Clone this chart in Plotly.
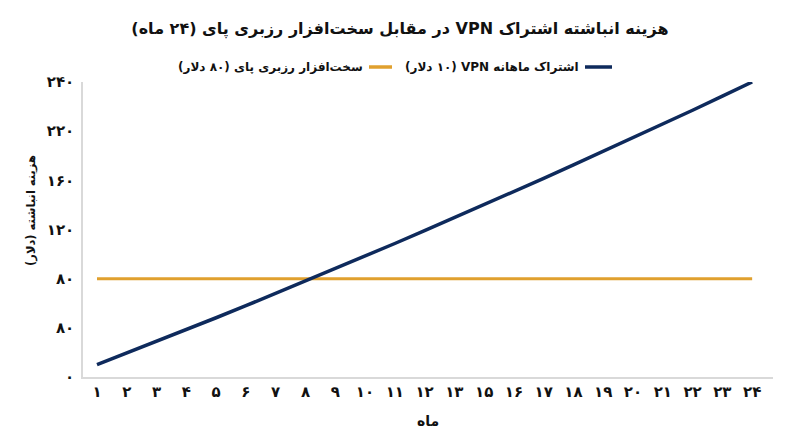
import plotly.graph_objects as go

# month labels as shown on the chart (14 is missing in the original)
months = ["۱", "۲", "۳", "۴", "۵", "۶", "۷", "۸", "۹", "۱۰", "۱۱", "۱۲",
          "۱۳", "۱۵", "۱۶", "۱۷", "۱۸", "۱۹", "۲۰", "۲۱", "۲۲", "۲۳", "۲۴"]

# cumulative cost (dollars)
vpn_cost = [10, 19.4, 28.9, 38.5, 48.2, 58, 68, 77.9, 88.1, 98.3, 108.6, 119,
            129.5, 140.1, 150.8, 161.6, 172.5, 183.5, 194.6, 205.7, 217, 228.5, 240]
pi_cost = [80] * len(months)

y_ticks = [0, 40, 80, 120, 160, 200, 240]
y_ticktext = ["۰", "۸۰", "۸۰", "۱۲۰", "۱۶۰", "۲۲۰", "۲۴۰"]

RLE, PDF = "\u202b", "\u202c"
FONT = "DejaVu Sans"
NAVY = "#0E2A5C"
ORANGE = "#E0A02E"
INK = "#111111"

title_txt = "هزینه انباشته اشتراک VPN در مقابل سخت\u200cافزار رزبری پای (۲۴ ماه)"
vpn_name = "اشتراک ماهانه VPN (۱۰ دلار)"
pi_name = "سخت\u200cافزار رزبری پای (۸۰ دلار)"
x_title = "ماه"
y_title = "هزینه انباشته (دلار)"

# figure is drawn 8px in from the page corner (body margin)
W, H = 792, 439
L, R, T, B = 75, 27, 74, 70
PW, PH = W - L - R, H - T - B


def px(xpage):
    return (xpage - 8 - L) / PW


def py(ypage):
    return (H - B - (ypage - 8)) / PH


def rtl(s):
    return RLE + s + PDF


fig = go.Figure()
fig.add_trace(go.Scatter(x=months, y=pi_cost, mode="lines", name=pi_name,
                         line=dict(color=ORANGE, width=3)))
fig.add_trace(go.Scatter(x=months, y=vpn_cost, mode="lines", name=vpn_name,
                         line=dict(color=NAVY, width=3.5)))

# legend drawn by hand so it reads right to left: (name, colour, symbol left, symbol right)
legend_items = [(vpn_name, NAVY, 585, 612), (pi_name, ORANGE, 369, 392)]
for name, color, x0, x1 in legend_items:
    fig.add_shape(type="line", xref="paper", yref="paper",
                  x0=px(x0), x1=px(x1), y0=py(67), y1=py(67),
                  line=dict(color=color, width=3.5))
    fig.add_annotation(text="<b>" + rtl(name) + "</b>", xref="paper", yref="paper",
                       x=px(x0 - 4), y=py(67), xanchor="right", yanchor="middle",
                       showarrow=False, font=dict(family=FONT, size=12, color=INK))

fig.add_annotation(text="<b>" + rtl(x_title) + "</b>", xref="paper", yref="paper",
                   x=px(428), y=py(421), xanchor="center", yanchor="middle",
                   showarrow=False, font=dict(family=FONT, size=14, color=INK))
fig.add_annotation(text="<b>" + rtl(y_title) + "</b>", xref="paper", yref="paper",
                   x=px(31), y=py(211), xanchor="center", yanchor="middle",
                   textangle=-90, showarrow=False,
                   font=dict(family=FONT, size=11.5, color=INK))

fig.update_layout(
    width=W, height=H,
    margin=dict(l=L, r=R, t=T, b=B),
    paper_bgcolor="white", plot_bgcolor="white",
    showlegend=False,
    font=dict(family=FONT, color=INK),
    title=dict(text="<b>" + rtl(title_txt) + "</b>", x=(400 - 8) / W, xanchor="center",
               y=1 - (28 - 8) / H, yanchor="middle",
               font=dict(family=FONT, size=16, color=INK)),
)
fig.update_xaxes(
    type="category", range=[-0.47, 22.7],
    showline=True, linecolor="#d9d9d9", linewidth=1.5, showgrid=False,
    ticks="", tickfont=dict(family=FONT, size=15, color=INK),
    tickvals=months, ticktext=["<b>" + m + "</b>" for m in months],
)
fig.update_yaxes(
    range=[0, 240], tickvals=y_ticks, ticktext=["<b>" + t + "</b>" for t in y_ticktext],
    showline=True, linecolor="#d9d9d9", linewidth=1.5, showgrid=False, zeroline=False,
    ticks="", ticklabelstandoff=4, tickfont=dict(family=FONT, size=15, color=INK),
)

fig.write_html("out.html")
